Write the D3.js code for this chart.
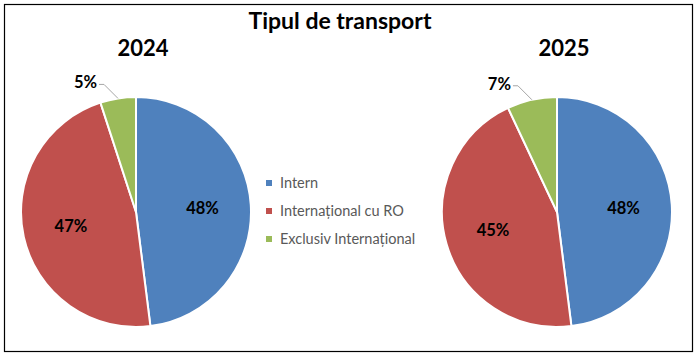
<!DOCTYPE html>
<html><head><meta charset="utf-8">
<script src="https://cdn.jsdelivr.net/npm/d3@7"></script>
<style>html,body{margin:0;padding:0;background:#fff;}</style>
</head><body>
<script>
const title = "Tipul de transport";
const categories = ["Intern", "Internațional cu RO", "Exclusiv Internațional"];
const years = ["2024", "2025"];
const values2024 = [48, 47, 5];
const values2025 = [48, 45, 7];
const colors = ["#4F81BD", "#C0504D", "#9BBB59"];

const W = 696, H = 356;
const font = "Lato, 'Open Sans', sans-serif";
const svg = d3.select("body").append("svg").attr("width", W).attr("height", H);

svg.append("rect").attr("x", 4.5).attr("y", 4.5).attr("width", 688).attr("height", 347)
  .attr("fill", "#fff").attr("stroke", "#000").attr("stroke-width", 1.2);

svg.append("text").attr("x", 340).attr("y", 29).attr("text-anchor", "middle")
  .attr("font-family", font).attr("font-weight", "bold").attr("font-size", 23)
  .attr("fill", "#000").text(title);

const color = d3.scaleOrdinal().domain(categories).range(colors);
const R = 115;
const pie = d3.pie().sort(null).value(d => d.v);
const arc = d3.arc().innerRadius(0).outerRadius(R);
const labelArc = d3.arc().innerRadius(R * 0.58).outerRadius(R * 0.58);

const charts = [
  {year: years[0], values: values2024, cx: 136},
  {year: years[1], values: values2025, cx: 557}
];
const cy = 212;

charts.forEach(c => {
  const data = categories.map((k, i) => ({k, v: c.values[i]}));
  const arcs = pie(data);
  const g = svg.append("g").attr("transform", `translate(${c.cx},${cy})`);
  svg.append("text").attr("x", c.cx + 7).attr("y", 56).attr("text-anchor", "middle")
    .attr("font-family", font).attr("font-weight", "bold").attr("font-size", 22)
    .attr("fill", "#000").text(c.year);
  g.selectAll("path").data(arcs).enter().append("path")
    .attr("d", arc).attr("fill", d => color(d.data.k))
    .attr("stroke", "#fff").attr("stroke-width", 2).attr("stroke-linejoin", "round");
  arcs.forEach(a => {
    const total = d3.sum(data, d => d.v);
    const txt = Math.round(a.data.v / total * 100) + "%";
    if (a.data.v / total > 0.1) {
      const [x, y] = labelArc.centroid(a);
      g.append("text").attr("x", x).attr("y", y).attr("dy", "0.35em")
        .attr("text-anchor", "middle").attr("font-family", font)
        .attr("font-weight", "bold").attr("font-size", 16.5).attr("fill", "#000").text(txt);
    } else {
      const mid = (a.startAngle + a.endAngle) / 2;
      const px = Math.sin(mid) * R, py = -Math.cos(mid) * R;
      const ex = px - 14, ey = py - 14;
      g.append("polyline")
        .attr("points", `${px},${py} ${ex},${ey} ${ex - 5},${ey}`)
        .attr("fill", "none").attr("stroke", "#a6a6a6").attr("stroke-width", 1);
      g.append("text").attr("x", ex - 7).attr("y", ey - 2).attr("dy", "0.35em")
        .attr("text-anchor", "end").attr("font-family", font)
        .attr("font-weight", "bold").attr("font-size", 16.5).attr("fill", "#000").text(txt);
    }
  });
});

const legend = svg.append("g");
const ly = d3.scalePoint().domain(categories).range([183, 239]);
categories.forEach(k => {
  legend.append("rect").attr("x", 266).attr("y", ly(k) - 3).attr("width", 6).attr("height", 6)
    .attr("fill", color(k));
  legend.append("text").attr("x", 280).attr("y", ly(k)).attr("dy", "0.35em")
    .attr("font-family", font).attr("font-size", 14.5).attr("fill", "#595959").text(k);
});
</script>
</body></html>
